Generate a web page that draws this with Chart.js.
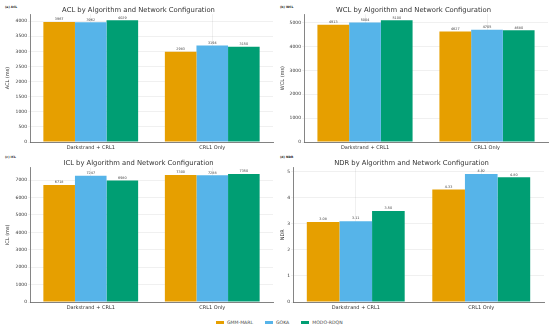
<!DOCTYPE html>
<html>
<head>
<meta charset="utf-8">
<script src="https://cdn.jsdelivr.net/npm/chart.js@4.4.0/dist/chart.umd.min.js"></script>
<style>
  body { margin: 0; background: #fff; width: 550px; height: 331px; position: relative; overflow: hidden; font-family: "DejaVu Sans", sans-serif; }
  .panel { position: absolute; }
  .tag { position: absolute; font-size: 3px; font-weight: bold; color: #222; }
  #legend { position: absolute; left: 213px; top: 319.5px; display: flex; align-items: center; font-size: 4.6px; color: #444; }
  #legend span.sw { display: inline-block; width: 8px; height: 3px; margin: 0 3px 0 3px; }
  #legend span.lb { margin-right: 9px; }
</style>
</head>
<body>
<div class="tag" style="left:5px;top:5px">(a) ACL</div>
<div class="tag" style="left:280px;top:5px">(b) WCL</div>
<div class="tag" style="left:5px;top:155px">(c) ICL</div>
<div class="tag" style="left:280px;top:155px">(d) NDR</div>
<div class="panel" style="left:0;top:0;width:275px;height:150px"><canvas id="acl"></canvas></div>
<div class="panel" style="left:275px;top:0;width:275px;height:150px"><canvas id="wcl"></canvas></div>
<div class="panel" style="left:0;top:150px;width:275px;height:160px"><canvas id="icl"></canvas></div>
<div class="panel" style="left:275px;top:150px;width:275px;height:160px"><canvas id="ndr"></canvas></div>
<div id="legend"></div>
<script>
// categories and series
const configs = ['Darkstrand + CRL1', 'CRL1 Only'];
const algos = ['GMM-MARL', 'GOKA', 'MODO-RDQN'];
const colors = ['#E69F00', '#56B4E9', '#009E73'];

// values per metric, one array per algorithm: [Darkstrand + CRL1, CRL1 Only]
const aclGmm = [3967, 2983], aclGoka = [3962, 3194], aclModo = [4029, 3150];
const wclGmm = [4913, 4627], wclGoka = [5004, 4705], wclModo = [5100, 4680];
const iclGmm = [6718, 7300], iclGoka = [7247, 7288], iclModo = [6980, 7350];
const ndrGmm = [3.08, 4.33], ndrGoka = [3.11, 4.92], ndrModo = [3.50, 4.80];

// y tick labels
const aclTicks = [0, 500, 1000, 1500, 2000, 2500, 3000, 3500, 4000];
const wclTicks = [0, 1000, 2000, 3000, 4000, 5000];
const iclTicks = [0, 1000, 2000, 3000, 4000, 5000, 6000, 7000];
const ndrTicks = [0, 1, 2, 3, 4, 5];

// bar value labels
const valueLabels = {
  id: 'valueLabels',
  afterDatasetsDraw(chart, args, opts) {
    const ctx = chart.ctx;
    ctx.save();
    ctx.font = '3.4px "DejaVu Sans"';
    ctx.fillStyle = '#444';
    ctx.textAlign = 'center';
    ctx.textBaseline = 'bottom';
    chart.data.datasets.forEach((ds, i) => {
      chart.getDatasetMeta(i).data.forEach((bar, j) => {
        const v = ds.data[j];
        ctx.fillText(opts.decimals ? v.toFixed(2) : String(v), bar.x, bar.y - 0.8);
      });
    });
    ctx.restore();
  }
};

function makeChart(id, title, yTitle, series, yTicks, decimals, yWidth, top, left, right) {
  const maxV = Math.max(...series.flat());
  new Chart(document.getElementById(id), {
    type: 'bar',
    data: {
      labels: configs,
      datasets: series.map((d, i) => ({
        label: algos[i], data: d, backgroundColor: colors[i],
        categoryPercentage: 0.78, barPercentage: 1.0
      }))
    },
    plugins: [valueLabels],
    options: {
      responsive: true, maintainAspectRatio: false, animation: false,
      layout: { padding: { top: top, left: left, right: right, bottom: 0 } },
      plugins: {
        legend: { display: false },
        tooltip: { enabled: false },
        valueLabels: { decimals: decimals },
        title: {
          display: true, text: title, color: '#333',
          font: { family: 'DejaVu Sans', size: 6.8, weight: 'normal' },
          padding: { top: 0, bottom: 0 }
        }
      },
      scales: {
        x: {
          grid: { color: 'rgba(0,0,0,0.06)', tickLength: 2, offset: false },
          border: { color: '#666', width: 0.8 },
          ticks: { color: '#333', font: { family: 'DejaVu Sans', size: 5 }, padding: 0.5 },
          afterFit(s) { s.height = 8; }
        },
        y: {
          min: 0, max: maxV * 1.05,
          grid: { color: 'rgba(0,0,0,0.06)', tickLength: 2 },
          border: { color: '#666', width: 0.8 },
          afterBuildTicks(s) { s.ticks = yTicks.map(v => ({ value: v })); },
          ticks: {
            autoSkip: false, color: '#333', padding: 1,
            font: { family: 'DejaVu Sans', size: 4.5 },
            callback: v => String(v)
          },
          title: { display: true, text: yTitle, color: '#333', padding: 1, font: { family: 'DejaVu Sans', size: 5 } },
          afterFit(s) { s.width = yWidth; }
        }
      }
    }
  });
}

makeChart('acl', 'ACL by Algorithm and Network Configuration', 'ACL (ms)', [aclGmm, aclGoka, aclModo], aclTicks, false, 26, 6, 4, 2);
makeChart('wcl', 'WCL by Algorithm and Network Configuration', 'WCL (ms)', [wclGmm, wclGoka, wclModo], wclTicks, false, 25, 6, 4, 2);
makeChart('icl', 'ICL by Algorithm and Network Configuration', 'ICL (ms)', [iclGmm, iclGoka, iclModo], iclTicks, false, 26, 9.5, 4, 2);
makeChart('ndr', 'NDR by Algorithm and Network Configuration', 'NDR', [ndrGmm, ndrGoka, ndrModo], ndrTicks, true, 14, 9.5, 4, 6);

// legend
const legend = document.getElementById('legend');
algos.forEach((a, i) => {
  const sw = document.createElement('span');
  sw.className = 'sw';
  sw.style.background = colors[i];
  const lb = document.createElement('span');
  lb.className = 'lb';
  lb.textContent = a;
  legend.appendChild(sw);
  legend.appendChild(lb);
});
</script>
</body>
</html>
